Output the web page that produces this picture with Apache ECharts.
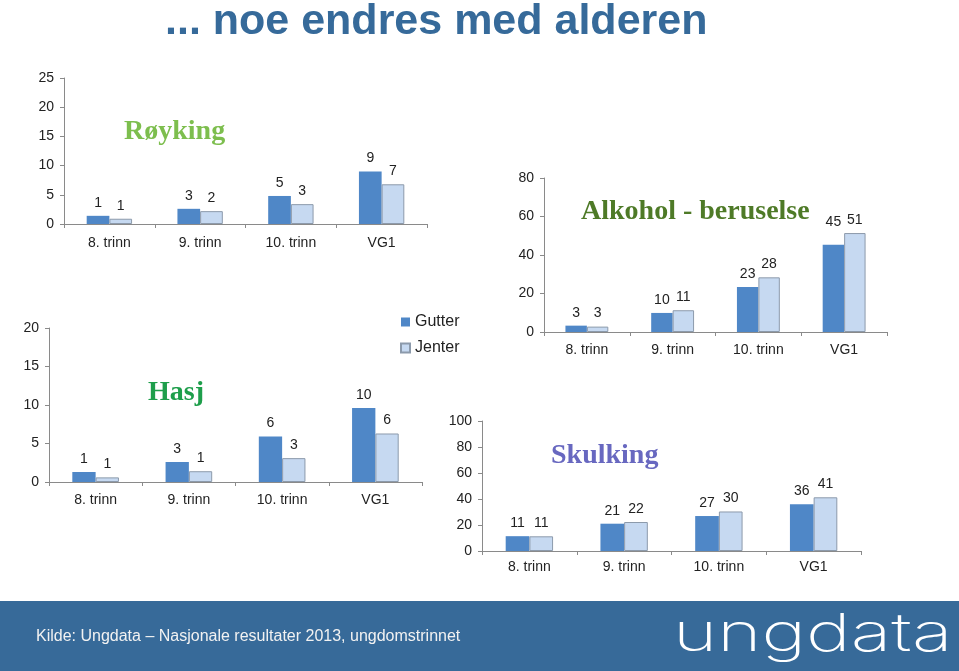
<!DOCTYPE html>
<html><head><meta charset="utf-8">
<script src="https://cdn.jsdelivr.net/npm/echarts@6/dist/echarts.min.js"></script>
<style>html,body{margin:0;padding:0;background:#fff}#c{width:959px;height:671px}</style>
</head><body><div id="c"></div>
<script>
// ---- data ----
const categories = ['8. trinn', '9. trinn', '10. trinn', 'VG1'];
const seriesNames = ['Gutter', 'Jenter'];
const roykingGutter = [1.4, 2.6, 4.8, 9.0];
const roykingJenter = [0.9, 2.2, 3.4, 6.8];
const hasjGutter = [1.3, 2.6, 5.9, 9.6];
const hasjJenter = [0.6, 1.4, 3.1, 6.3];
const alkoholGutter = [3.3, 9.9, 23.4, 45.3];
const alkoholJenter = [2.8, 11.3, 28.4, 51.4];
const skulkingGutter = [11.4, 21.0, 26.9, 35.9];
const skulkingJenter = [11.3, 22.3, 30.4, 41.3];
const mainTitle = '... noe endres med alderen';
const sourceText = 'Kilde: Ungdata \u2013 Nasjonale resultater 2013, ungdomstrinnet';

// ---- layout / style ----
const panels = [
  {title: 'Røyking', color: '#7DBE4E', g: roykingGutter, j: roykingJenter, max: 25, interval: 5,
   grid: {left: 64, top: 78, width: 363, height: 146}, tx: 124, ty: 132, margin: 12},
  {title: 'Hasj', color: '#1E9E4B', g: hasjGutter, j: hasjJenter, max: 20, interval: 5,
   grid: {left: 49, top: 328, width: 373, height: 154}, tx: 148, ty: 393, margin: 11},
  {title: 'Alkohol - beruselse', color: '#4E7A27', g: alkoholGutter, j: alkoholJenter, max: 80, interval: 20,
   grid: {left: 544, top: 178, width: 343, height: 154}, tx: 581, ty: 212, margin: 11, special: 3},
  {title: 'Skulking', color: '#6868C0', g: skulkingGutter, j: skulkingJenter, max: 100, interval: 20,
   grid: {left: 482, top: 421, width: 379, height: 130}, tx: 551, ty: 456, margin: 9}
];
const GUT = '#4F87C7', JEN = '#C6D9F1', JENB = '#8C9AAB', AX = '#8A8A8A', TXT = '#222';
const FONT = '"Liberation Sans", Arial, sans-serif';

const grid = [], xAxis = [], yAxis = [], series = [], graphic = [];
panels.forEach((p, i) => {
  grid.push(p.grid);
  xAxis.push({type: 'category', gridIndex: i, data: categories,
    axisLine: {lineStyle: {color: AX}}, axisTick: {show: true, length: 4, lineStyle: {color: AX}},
    axisLabel: {color: TXT, fontSize: 14, fontFamily: FONT, margin: p.margin}});
  yAxis.push({type: 'value', gridIndex: i, min: 0, max: p.max, interval: p.interval,
    axisLine: {show: true, lineStyle: {color: AX}}, axisTick: {show: true, length: 4, lineStyle: {color: AX}},
    splitLine: {show: false},
    axisLabel: {color: TXT, fontSize: 14, fontFamily: FONT, margin: 10}});
  const lab = {show: true, position: 'top', distance: 6, color: TXT, fontSize: 14, fontFamily: FONT,
    formatter: d => Math.round(d.value)};
  series.push({name: seriesNames[0], type: 'bar', xAxisIndex: i, yAxisIndex: i,
    data: p.g.map((v, k) => k === p.special ? {value: v, label: {distance: 16}} : v),
    barGap: '0%', barCategoryGap: '50%', itemStyle: {color: GUT}, label: lab});
  series.push({name: seriesNames[1], type: 'bar', xAxisIndex: i, yAxisIndex: i, data: p.j,
    barGap: '0%', barCategoryGap: '50%', itemStyle: {color: JEN, borderColor: JENB, borderWidth: 1}, label: lab});
  graphic.push({type: 'text', x: p.tx, y: p.ty, z: 10,
    style: {text: p.title, fill: p.color, font: 'bold 28px "Liberation Serif", serif', verticalAlign: 'middle'}});
});

graphic.push({type: 'text', x: 165, y: 22, style: {text: mainTitle, fill: '#366A9A',
  font: 'bold 43px "Liberation Sans", Arial, sans-serif', verticalAlign: 'middle'}});
graphic.push({type: 'rect', shape: {x: 0, y: 601, width: 959, height: 70}, style: {fill: '#376A99'}, z: 0});
graphic.push({type: 'text', x: 36, y: 637, z: 5, style: {text: sourceText, fill: '#F2F2F2',
  font: '16px "Liberation Sans", Arial, sans-serif', verticalAlign: 'middle'}});
graphic.push({type: 'text', x: 673, y: 635, z: 5, scaleX: 1.45, style: {text: 'ungdata', fill: '#FFFFFF',
  font: '200 52px Inter, sans-serif', verticalAlign: 'middle'}});

const chart = echarts.init(document.getElementById('c'), null, {renderer: 'canvas'});
chart.setOption({
  animation: false,
  backgroundColor: '#fff',
  grid, xAxis, yAxis, series, graphic,
  legend: {data: seriesNames, orient: 'vertical', left: 395, top: 309, itemWidth: 9, itemHeight: 9,
    itemGap: 10, icon: 'rect', textStyle: {color: TXT, fontSize: 16, fontFamily: FONT}}
});
</script></body></html>
